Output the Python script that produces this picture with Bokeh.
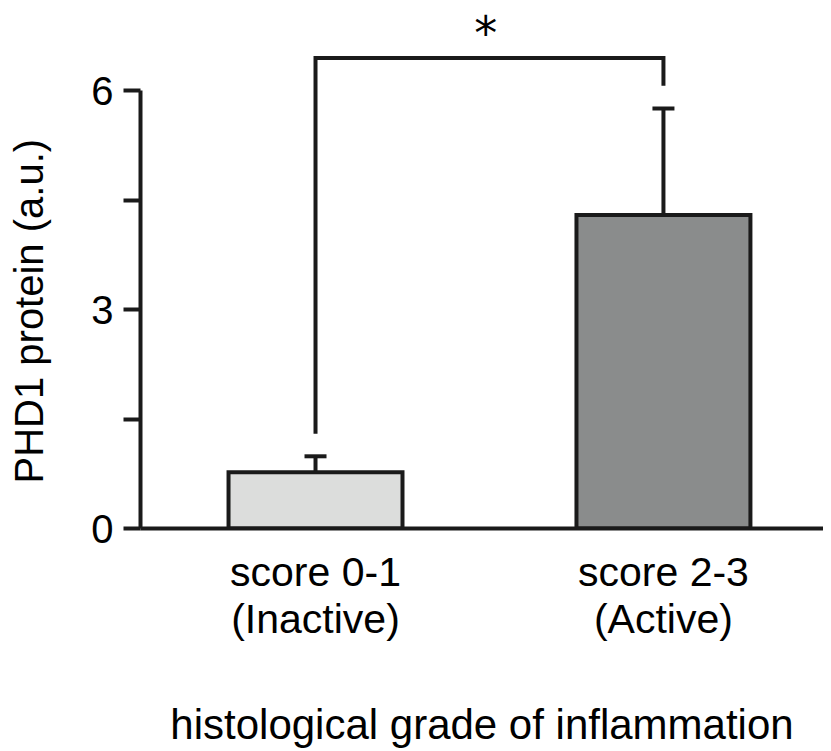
from bokeh.plotting import figure
from bokeh.models import (Range1d, FixedTicker, LinearAxis, ColumnDataSource,
                          Whisker, TeeHead, Label, Title)
from bokeh.embed import file_html
from bokeh.resources import INLINE

# ---- data ----
categories = ["score 0-1\n(Inactive)", "score 2-3\n(Active)"]
means = [0.77, 4.30]
sems = [0.22, 1.46]
y_ticks = [0, 3, 6]
y_minor_ticks = [1.5, 4.5]
bracket_level = 6.45
bracket_gap = 0.31
sig_label = "*"
x_title = "histological grade of inflammation"
y_title = "PHD1 protein (a.u.)"

xs = list(range(1, len(categories) + 1))
upper = [m + s for m, s in zip(means, sems)]

FONT = "Liberation Sans"
INK = "#1a1a1a"

p = figure(frame_width=683, frame_height=520, output_backend="svg",
           toolbar_location=None, x_range=Range1d(0.497, 2.46),
           y_range=Range1d(0, 7.13), min_border_left=140, min_border_right=0,
           min_border_top=8, min_border_bottom=215, x_axis_type=None,
           y_axis_type=None)
p.outline_line_color = None
p.background_fill_color = "white"
p.border_fill_color = "white"

# axes
xaxis = LinearAxis(ticker=FixedTicker(ticks=xs),
                   major_label_overrides={x: c for x, c in zip(xs, categories)})
xaxis.axis_label = x_title
xaxis.major_tick_out = 0
xaxis.major_tick_in = 0
xaxis.minor_tick_out = 0
xaxis.minor_tick_in = 0
xaxis.axis_line_width = 4
xaxis.axis_line_color = INK
xaxis.major_label_text_font = FONT
xaxis.major_label_text_font_size = "41px"
xaxis.major_label_text_color = "black"
xaxis.major_label_text_line_height = 1.03
xaxis.major_label_standoff = 20
xaxis.axis_label_text_font = FONT
xaxis.axis_label_text_font_size = "42px"
xaxis.axis_label_text_font_style = "normal"
xaxis.axis_label_text_color = "black"
xaxis.axis_label_standoff = 56
p.add_layout(xaxis, "below")

yaxis = LinearAxis(ticker=FixedTicker(ticks=y_ticks, minor_ticks=y_minor_ticks),
                   bounds=(y_ticks[0], y_ticks[-1]))
yaxis.major_tick_out = 17
yaxis.major_tick_in = 0
yaxis.minor_tick_out = 17
yaxis.minor_tick_in = 0
yaxis.major_tick_line_width = 4
yaxis.minor_tick_line_width = 4
yaxis.major_tick_line_color = INK
yaxis.minor_tick_line_color = INK
yaxis.axis_line_width = 4
yaxis.axis_line_color = INK
yaxis.major_label_text_font = FONT
yaxis.major_label_text_font_size = "40px"
yaxis.major_label_text_color = "black"
yaxis.major_label_standoff = 10
p.add_layout(yaxis, "left")

# y-axis title as a left-side title, shifted to sit centred on the 0..6 span;
# the trailing empty line pushes the text away from the tick labels
p.add_layout(Title(text=y_title + "\n", align="left", offset=45, text_font=FONT,
                   text_font_size="40px", text_font_style="normal",
                   text_line_height=0.85, text_color="black", standoff=0), "left")

p.ygrid.ticker = FixedTicker(ticks=[y_ticks[-1]])
p.ygrid.grid_line_color = "#e6e6e6"
p.ygrid.grid_line_width = 1.5
p.xgrid.visible = False

# bars
src = ColumnDataSource(dict(x=xs, top=means, upper=upper,
                            fill=["#dcdddc", "#8a8c8c"]))
p.vbar(x="x", top="top", bottom=0, width=0.5, source=src, fill_color="fill",
       line_color=INK, line_width=4, line_join="miter")

# error bars (upper only)
w = Whisker(base="x", lower="top", upper="upper", dimension="height",
            source=src, line_color=INK, line_width=4,
            upper_head=TeeHead(size=22, line_width=4, line_color=INK),
            lower_head=None)
p.add_layout(w)

# significance bracket
bx = [xs[0], xs[0], xs[1], xs[1]]
by = [upper[0] + bracket_gap, bracket_level, bracket_level, upper[1] + bracket_gap]
p.line(bx, by, line_color=INK, line_width=4, line_join="miter")
p.add_layout(Label(x=(xs[0] + xs[1]) / 2 - 0.011, y=7.16, text=sig_label,
                   text_font="DejaVu Sans", text_font_size="46px",
                   text_align="center", text_baseline="top", text_color="black"))

open("out.html", "w").write(file_html(p, INLINE))
